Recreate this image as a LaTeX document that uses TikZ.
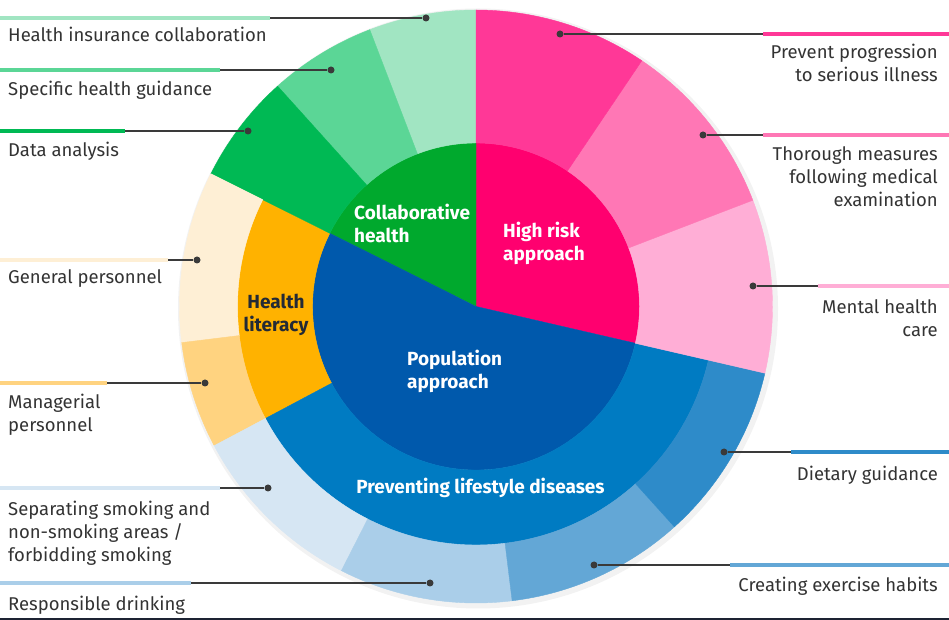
\documentclass[tikz,border=0pt]{standalone}
\usepackage{fontspec}
\setmainfont{Fira Sans}
\usetikzlibrary{positioning}

\definecolor{popblue}{RGB}{0,89,172}
\definecolor{lifeblue}{RGB}{0,123,194}
\definecolor{dietblue}{RGB}{46,139,201}
\definecolor{exerblue}{RGB}{99,167,214}
\definecolor{drinkblue}{RGB}{170,206,233}
\definecolor{smokeblue}{RGB}{214,230,243}
\definecolor{litorange}{RGB}{255,178,0}
\definecolor{mgrorange}{RGB}{255,211,128}
\definecolor{genorange}{RGB}{254,239,213}
\definecolor{colgreen}{RGB}{0,169,45}
\definecolor{datagreen}{RGB}{0,185,84}
\definecolor{shggreen}{RGB}{91,214,150}
\definecolor{hicgreen}{RGB}{161,229,194}
\definecolor{riskpink}{RGB}{255,0,111}
\definecolor{progpink}{RGB}{255,56,151}
\definecolor{thorpink}{RGB}{255,119,181}
\definecolor{mentpink}{RGB}{255,174,214}
\definecolor{labelgray}{RGB}{51,51,51}
\definecolor{leadgray}{RGB}{58,58,58}
\definecolor{litdark}{RGB}{35,42,54}
\definecolor{framenavy}{RGB}{29,35,51}

\newcommand{\wedgepart}[4]{\filldraw[fill=#1, draw=#1, line width=0.4pt] (0,0) -- (#2:#4) arc[start angle=#2, end angle=#3, radius=#4] -- cycle;}
\newcommand{\ringpart}[5]{\filldraw[fill=#1, draw=#1, line width=0.4pt] (#2:#4) arc[start angle=#2, end angle=#3, radius=#4] -- (#3:#5) arc[start angle=#3, end angle=#2, radius=#5] -- cycle;}

\begin{document}
\begin{tikzpicture}[
  x=1pt, y=1pt,
  every node/.style={inner sep=0pt},
  itemtext/.style={font=\fontsize{18.5}{23}\selectfont, text=labelgray, align=left, anchor=north west},
  itemtextR/.style={font=\fontsize{18.5}{23}\selectfont, text=labelgray, align=right, anchor=north east},
  headtext/.style={font=\fontsize{19}{23}\selectfont\bfseries, text=white, align=left, anchor=north west},
  dotmark/.style={circle, fill=leadgray, minimum size=7pt},
  colorbar/.style={line width=4.5pt},
  leader/.style={leadgray, line width=1.2pt},
]

\useasboundingbox (0,0) rectangle (949,620);

\coordinate (c) at (476,313.5);
\coordinate (w) at (0,0);
\coordinate (e) at (949,0);

\begin{scope}[shift={(c)}]
  \fill[black, opacity=0.05] (2,-2) circle[radius=300pt];
  \wedgepart{riskpink}{-13}{90}{163.5pt}
  \wedgepart{colgreen}{90}{153.4}{163.5pt}
  \wedgepart{popblue}{153.4}{347}{163.5pt}
  \ringpart{litorange}{153.4}{208}{163.5pt}{238.5pt}
  \ringpart{lifeblue}{208}{347}{163.5pt}{238.5pt}
  \ringpart{hicgreen}{90}{111}{163.5pt}{296.5pt}
  \ringpart{shggreen}{111}{132}{163.5pt}{296.5pt}
  \ringpart{datagreen}{132}{153.4}{163.5pt}{296.5pt}
  \ringpart{genorange}{153.4}{187}{238.5pt}{296.5pt}
  \ringpart{mgrorange}{187}{208}{238.5pt}{296.5pt}
  \ringpart{smokeblue}{208}{243}{238.5pt}{296.5pt}
  \ringpart{drinkblue}{243}{277}{238.5pt}{296.5pt}
  \ringpart{exerblue}{277}{312}{238.5pt}{296.5pt}
  \ringpart{dietblue}{312}{347}{238.5pt}{296.5pt}
  \ringpart{mentpink}{-13}{21}{163.5pt}{296.5pt}
  \ringpart{thorpink}{21}{56}{163.5pt}{296.5pt}
  \ringpart{progpink}{56}{90}{163.5pt}{296.5pt}
\end{scope}

\node[headtext] (collab) at (354,416) {Collaborative\\health};
\node[headtext] (risk) at (503,398) {High risk\\approach};
\node[headtext, text=litdark, align=center, anchor=north] (literacy) at (276,326) {Health\\literacy};
\node[headtext] (population) at (407,270) {Population\\approach};
\node[headtext, align=center, anchor=north] (lifestyle) at (480.5,142) {Preventing lifestyle diseases};

\node[dotmark] (hic) at (426,602) {};
\coordinate (hic-end) at (270,602);
\draw[colorbar, hicgreen] (w |- hic-end) -- (hic-end);
\draw[leader] (hic-end) -- (hic);
\node[itemtext] (hic-text) at (8,593) {Health insurance collaboration};

\node[dotmark] (shg) at (331,550) {};
\coordinate (shg-end) at (220,550);
\draw[colorbar, shggreen] (w |- shg-end) -- (shg-end);
\draw[leader] (shg-end) -- (shg);
\node[itemtext] (shg-text) at (8,539) {Specific health guidance};

\node[dotmark] (data) at (248,489) {};
\coordinate (data-end) at (125,489);
\draw[colorbar, datagreen] (w |- data-end) -- (data-end);
\draw[leader] (data-end) -- (data);
\node[itemtext] (data-text) at (8,478) {Data analysis};

\node[dotmark] (gen) at (197,360) {};
\coordinate (gen-end) at (168,360);
\draw[colorbar, genorange] (w |- gen-end) -- (gen-end);
\draw[leader] (gen-end) -- (gen);
\node[itemtext] (gen-text) at (8,351) {General personnel};

\node[dotmark] (mgr) at (205,237) {};
\coordinate (mgr-end) at (107,237);
\draw[colorbar, mgrorange] (w |- mgr-end) -- (mgr-end);
\draw[leader] (mgr-end) -- (mgr);
\node[itemtext] (mgr-text) at (8,226) {Managerial\\personnel};

\node[dotmark] (smoke) at (268,132) {};
\coordinate (smoke-end) at (220,132);
\draw[colorbar, smokeblue] (w |- smoke-end) -- (smoke-end);
\draw[leader] (smoke-end) -- (smoke);
\node[itemtext] (smoke-text) at (8,119) {Separating smoking and\\non-smoking areas /\\forbidding smoking};

\node[dotmark] (drink) at (430,37) {};
\coordinate (drink-end) at (191,37);
\draw[colorbar, drinkblue] (w |- drink-end) -- (drink-end);
\draw[leader] (drink-end) -- (drink);
\node[itemtext] (drink-text) at (8,24) {Responsible drinking};

\node[dotmark] (prog) at (560,586) {};
\coordinate (prog-end) at (763,586);
\draw[colorbar, progpink] (prog-end) -- (e |- prog-end);
\draw[leader] (prog) -- (prog-end);
\node[itemtextR] (prog-text) at (938,576) {Prevent progression\\to serious illness};

\node[dotmark] (thor) at (703,485) {};
\coordinate (thor-end) at (763,485);
\draw[colorbar, thorpink] (thor-end) -- (e |- thor-end);
\draw[leader] (thor) -- (thor-end);
\node[itemtextR] (thor-text) at (938,474) {Thorough measures\\following medical\\examination};

\node[dotmark] (ment) at (753,334) {};
\coordinate (ment-end) at (818,334);
\draw[colorbar, mentpink] (ment-end) -- (e |- ment-end);
\draw[leader] (ment) -- (ment-end);
\node[itemtextR] (ment-text) at (938,321) {Mental health\\care};

\node[dotmark] (diet) at (724,168) {};
\coordinate (diet-end) at (791,168);
\draw[colorbar, dietblue] (diet-end) -- (e |- diet-end);
\draw[leader] (diet) -- (diet-end);
\node[itemtextR] (diet-text) at (938,154) {Dietary guidance};

\node[dotmark] (exer) at (594,55) {};
\coordinate (exer-end) at (730,55);
\draw[colorbar, exerblue] (exer-end) -- (e |- exer-end);
\draw[leader] (exer) -- (exer-end);
\node[itemtextR] (exer-text) at (938,43) {Creating exercise habits};

\draw[line width=2pt, framenavy] (w) ++(0,1) -- (949,1);

\end{tikzpicture}
\end{document}
